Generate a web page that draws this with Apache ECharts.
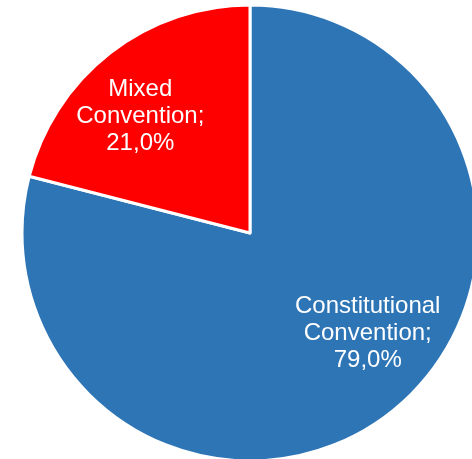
<!DOCTYPE html>
<html>
<head>
<meta charset="utf-8">
<script src="https://cdn.jsdelivr.net/npm/echarts@6/dist/echarts.min.js"></script>
<style>
  html, body { margin: 0; padding: 0; background: #fff; }
  #main { width: 472px; height: 459px; }
</style>
</head>
<body>
<div id="main"></div>
<script>
 var categories = ['Constitutional Convention', 'Mixed Convention'];
 var shares = [79.0, 21.0];
 var colors = ['#2E75B6', '#FF0000'];

 // label nudges from the default "inside" spot (Excel best-fit look)
 var labelShift = [[46, 8], [-38, -24]];

 var pieData = categories.map(function(name, i) {
     return {
         name: name,
         value: shares[i],
         itemStyle: { color: colors[i] }
     };
 });

 var chart = echarts.init(document.getElementById('main'));
 chart.setOption({
     animation: false,
     series: [{
         type: 'pie',
         center: [250, 233],
         radius: 228,
         startAngle: 90,
         clockwise: true,
         data: pieData,
         itemStyle: {
             borderColor: '#fff',
             borderWidth: 3
         },
         label: {
             show: true,
             position: 'inside',
             color: '#fff',
             fontFamily: 'Liberation Sans, Arial, sans-serif',
             fontSize: 24,
             lineHeight: 27,
             align: 'center',
             formatter: function(p) {
                 return p.name.replace(' ', '\n') + ';\n' + p.value.toFixed(1).replace('.', ',') + '%';
             }
         },
         labelLine: { show: false },
         labelLayout: function(p) {
             var s = labelShift[p.dataIndex];
             return { dx: s[0], dy: s[1] };
         },
         emphasis: { disabled: true }
     }]
 });
</script>
</body>
</html>
